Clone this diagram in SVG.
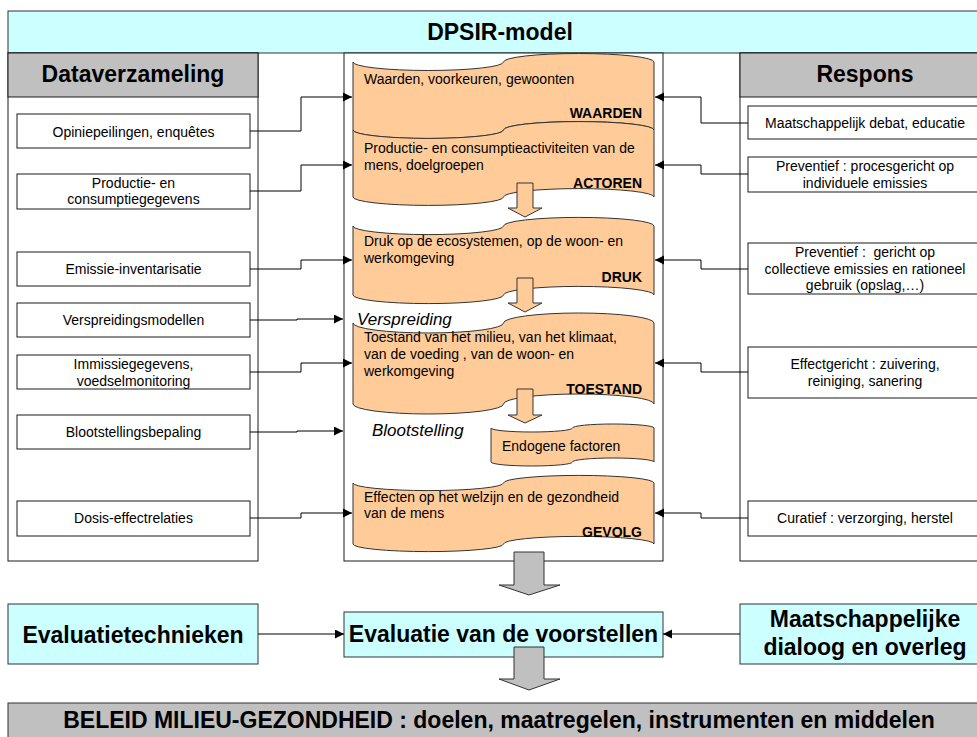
<svg xmlns="http://www.w3.org/2000/svg" width="977" height="737" viewBox="0 0 977 737">
<defs>
<style>
text{font-family:"Liberation Sans",Arial,sans-serif;fill:#000}
.hdr{font-size:23px;font-weight:bold;text-anchor:middle}
.sm{font-size:14px}
.smc{font-size:14px;text-anchor:middle}
.tag{font-size:14px;font-weight:bold;text-anchor:end}
.it{font-size:17px;font-style:italic}
.box{fill:#fff;stroke:#1a1a1a;stroke-width:1}
.cyan{fill:#ccffff;stroke:#333;stroke-width:1}
.gray{fill:#c0c0c0;stroke:#333;stroke-width:1}
.tape{fill:#ffcc99;stroke:#333;stroke-width:1}
.barr{fill:#ffcc99;stroke:#333;stroke-width:1}
.garr{fill:#c0c0c0;stroke:#333;stroke-width:1}
.con{fill:none;stroke:#000;stroke-width:1}
</style>
<marker id="ah" markerWidth="10" markerHeight="10" refX="9" refY="4.5" orient="auto" markerUnits="userSpaceOnUse">
<path d="M0,0 L9,4.5 L0,9 Z" fill="#000"/>
</marker>
</defs>
<rect width="977" height="737" fill="#fff"/>

<g id="title">
<rect class="cyan" x="8" y="11" width="982" height="42"/>
<text class="hdr" x="500" y="40">DPSIR-model</text>
</g>

<g id="panel-data">
<rect class="box" x="8" y="53" width="250" height="508"/>
<rect class="gray" x="8" y="53" width="250" height="44" style="stroke:#1a1a1a"/>
<text class="hdr" x="133" y="82">Dataverzameling</text>
</g>
<g id="panel-dpsir">
<rect class="box" x="344" y="53" width="319" height="508"/>
</g>
<g id="panel-respons">
<rect class="box" x="740" y="53" width="250" height="508"/>
<rect class="gray" x="740" y="53" width="250" height="44" style="stroke:#1a1a1a"/>
<text class="hdr" x="865" y="82">Respons</text>
</g>

<g id="d1"><rect class="box" x="17" y="114" width="233" height="34"/><text class="smc" x="133.5" y="136.5">Opiniepeilingen, enquêtes</text></g>
<g id="d2"><rect class="box" x="17" y="174" width="233" height="35"/><text class="smc" x="133.5" y="187.5">Productie- en</text><text class="smc" x="133.5" y="204">consumptiegegevens</text></g>
<g id="d3"><rect class="box" x="17" y="252" width="233" height="34"/><text class="smc" x="133.5" y="273.5">Emissie-inventarisatie</text></g>
<g id="d4"><rect class="box" x="17" y="303" width="233" height="34"/><text class="smc" x="133.5" y="325">Verspreidingsmodellen</text></g>
<g id="d5"><rect class="box" x="17" y="355" width="233" height="34"/><text class="smc" x="133.5" y="369">Immissiegegevens,</text><text class="smc" x="133.5" y="386">voedselmonitoring</text></g>
<g id="d6"><rect class="box" x="17" y="415" width="233" height="34"/><text class="smc" x="133.5" y="437">Blootstellingsbepaling</text></g>
<g id="d7"><rect class="box" x="17" y="501" width="233" height="35"/><text class="smc" x="133.5" y="523">Dosis-effectrelaties</text></g>

<g id="r1"><rect class="box" x="748" y="106" width="233" height="33"/><text class="smc" x="865" y="128">Maatschappelijk debat, educatie</text></g>
<g id="r2"><rect class="box" x="748" y="157" width="233" height="35"/><text class="smc" x="865" y="171">Preventief : procesgericht op</text><text class="smc" x="865" y="187.5">individuele emissies</text></g>
<g id="r3"><rect class="box" x="748" y="243" width="233" height="51"/><text class="smc" x="865" y="257" style="white-space:pre">Preventief :  gericht op</text><text class="smc" x="865" y="273.5">collectieve emissies en rationeel</text><text class="smc" x="865" y="290">gebruik (opslag,…)</text></g>
<g id="r4"><rect class="box" x="748" y="347" width="233" height="51"/><text class="smc" x="865" y="369">Effectgericht : zuivering,</text><text class="smc" x="865" y="386">reiniging, sanering</text></g>
<g id="r5"><rect class="box" x="748" y="501" width="233" height="35"/><text class="smc" x="865" y="523">Curatief : verzorging, herstel</text></g>

<g id="waarden">
<path class="tape" d="M353,62 A75.25,8.5 0 0 0 503.5,62 A75.25,8.5 0 0 1 654,62 L654,130 A75.25,8.5 0 0 0 503.5,130 A75.25,8.5 0 0 1 353,130 Z"/>
<text class="sm" x="364" y="84">Waarden, voorkeuren, gewoonten</text>
<text class="tag" x="642" y="118">WAARDEN</text>
</g>
<g id="actoren">
<path class="tape" d="M353,130 A75.25,8.4 0 0 0 503.5,130 A75.25,8.4 0 0 1 654,130 L654,197 A75.25,8.4 0 0 0 503.5,197 A75.25,8.4 0 0 1 353,197 Z"/>
<text class="sm" x="364" y="153">Productie- en consumptieactiviteiten van de</text>
<text class="sm" x="364" y="170">mens, doelgroepen</text>
<text class="tag" x="642" y="188">ACTOREN</text>
</g>
<g id="druk">
<path class="tape" d="M353,226 A75.25,8.6 0 0 0 503.5,226 A75.25,8.6 0 0 1 654,226 L654,295 A75.25,8.6 0 0 0 503.5,295 A75.25,8.6 0 0 1 353,295 Z"/>
<text class="sm" x="364" y="246">Druk op de ecosystemen, op de woon- en</text>
<text class="sm" x="364" y="263">werkomgeving</text>
<text class="tag" x="642" y="282">DRUK</text>
</g>
<g id="toestand">
<path class="tape" d="M353,323 A75.25,10 0 0 0 503.5,323 A75.25,10 0 0 1 654,323 L654,404 A75.25,10 0 0 0 503.5,404 A75.25,10 0 0 1 353,404 Z"/>
<text class="sm" x="364" y="342">Toestand van het milieu, van het klimaat,</text>
<text class="sm" x="364" y="359">van de voeding , van de woon- en</text>
<text class="sm" x="364" y="376">werkomgeving</text>
<text class="tag" x="642" y="394">TOESTAND</text>
</g>
<g id="endogeen">
<path class="tape" d="M491,428 A40.75,4 0 0 0 572.5,428 A40.75,4 0 0 1 654,428 L654,462 A40.75,4 0 0 0 572.5,462 A40.75,4 0 0 1 491,462 Z"/>
<text class="sm" x="502" y="451">Endogene factoren</text>
</g>
<g id="gevolg">
<path class="tape" d="M353,483 A75.25,7.6 0 0 0 503.5,483 A75.25,7.6 0 0 1 654,483 L654,544 A75.25,7.6 0 0 0 503.5,544 A75.25,7.6 0 0 1 353,544 Z"/>
<text class="sm" x="364" y="502">Effecten op het welzijn en de gezondheid</text>
<text class="sm" x="364" y="518">van de mens</text>
<text class="tag" x="642" y="537">GEVOLG</text>
</g>
<g id="lbl-verspreiding"><text class="it" x="357" y="325">Verspreiding</text></g>
<g id="lbl-blootstelling"><text class="it" x="372" y="436">Blootstelling</text></g>

<g id="flow-arrows">
<path class="barr" d="M517,183 H533 V208 H542 L525,217 L508,208 H517 Z"/>
<path class="barr" d="M517,278 H533 V303 H542 L525,312 L508,303 H517 Z"/>
<path class="barr" d="M517,389 H533 V415 H542 L525,423 L508,415 H517 Z"/>
</g>

<g id="eval-tech">
<rect class="cyan" x="8" y="604" width="250" height="60"/>
<text class="hdr" x="133" y="643">Evaluatietechnieken</text>
</g>
<g id="eval">
<rect class="cyan" x="344" y="612" width="319" height="45"/>
<text class="hdr" x="503.5" y="642">Evaluatie van de voorstellen</text>
</g>
<g id="dialoog">
<rect class="cyan" x="740" y="604" width="250" height="60"/>
<text class="hdr" x="865" y="627">Maatschappelijke</text>
<text class="hdr" x="865" y="655">dialoog en overleg</text>
</g>
<g id="beleid">
<rect class="gray" x="8" y="703" width="982" height="45"/>
<text class="hdr" x="499" y="728">BELEID MILIEU-GEZONDHEID : doelen, maatregelen, instrumenten en middelen</text>
</g>

<g id="big-arrows">
<path class="garr" d="M514,552 H544 V585 H560 L529,595 L499,585 H514 Z"/>
<path class="garr" d="M514,647 H544 V679 H560 L529,690 L499,679 H514 Z"/>
</g>

<g id="connectors">
<polyline class="con" marker-end="url(#ah)" points="250,131 301,131 301,97 352,97"/>
<polyline class="con" marker-end="url(#ah)" points="250,191 301,191 301,165 352,165"/>
<polyline class="con" marker-end="url(#ah)" points="250,269 301,269 301,260 352,260"/>
<polyline class="con" marker-end="url(#ah)" points="250,320 297,320 297,319 343,319"/>
<polyline class="con" marker-end="url(#ah)" points="250,372 301,372 301,363 352,363"/>
<polyline class="con" marker-end="url(#ah)" points="250,432 297,432 297,431 343,431"/>
<polyline class="con" marker-end="url(#ah)" points="250,518 301,518 301,513 352,513"/>
<polyline class="con" marker-end="url(#ah)" points="748,123 701,123 701,97 655,97"/>
<polyline class="con" marker-end="url(#ah)" points="748,174 701,174 701,165 655,165"/>
<polyline class="con" marker-end="url(#ah)" points="748,269 701,269 701,260 655,260"/>
<polyline class="con" marker-end="url(#ah)" points="748,372 701,372 701,363 655,363"/>
<polyline class="con" marker-end="url(#ah)" points="748,518 701,518 701,513 655,513"/>
<line class="con" marker-end="url(#ah)" x1="258" y1="634" x2="344" y2="634"/>
<line class="con" marker-end="url(#ah)" x1="740" y1="634" x2="663" y2="634"/>
</g>
</svg>
